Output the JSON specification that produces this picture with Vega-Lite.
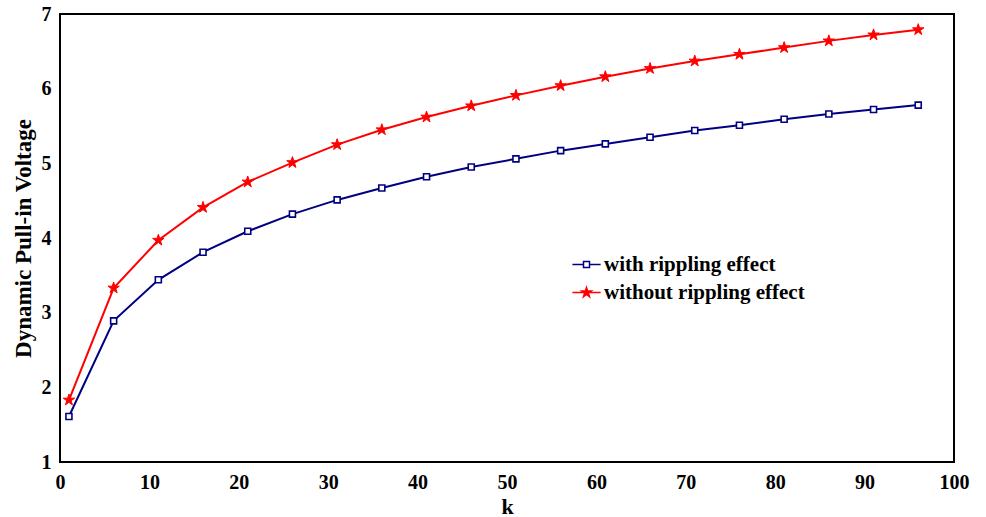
{
  "$schema": "https://vega.github.io/schema/vega-lite/v6.json",
  "width": 894,
  "height": 448,
  "autosize": "none",
  "padding": {"left": 60, "top": 14, "right": 32, "bottom": 55},
  "config": {
    "view": {"stroke": "#000000", "strokeWidth": 2},
    "font": "Liberation Serif",
    "axis": {
      "domain": false,
      "ticks": false,
      "grid": false,
      "labelFlush": false,
      "labelFont": "Liberation Serif",
      "labelFontWeight": "bold",
      "labelFontSize": 20,
      "labelColor": "#000000",
      "titleFont": "Liberation Serif",
      "titleFontWeight": "bold",
      "titleColor": "#000000"
    }
  },
  "datasets": {
    "kTicks": [{"k": 10}, {"k": 20}, {"k": 30}, {"k": 40}, {"k": 50}, {"k": 60}, {"k": 70}, {"k": 80}, {"k": 90}],
    "vTicks": [{"V": 2}, {"V": 3}, {"V": 4}, {"V": 5}, {"V": 6}]
  },
  "data": {
    "values": [
      {"k": 1, "V": 1.61, "series": "with rippling effect"},
      {"k": 6, "V": 2.89, "series": "with rippling effect"},
      {"k": 11, "V": 3.44, "series": "with rippling effect"},
      {"k": 16, "V": 3.81, "series": "with rippling effect"},
      {"k": 21, "V": 4.09, "series": "with rippling effect"},
      {"k": 26, "V": 4.32, "series": "with rippling effect"},
      {"k": 31, "V": 4.51, "series": "with rippling effect"},
      {"k": 36, "V": 4.67, "series": "with rippling effect"},
      {"k": 41, "V": 4.82, "series": "with rippling effect"},
      {"k": 46, "V": 4.95, "series": "with rippling effect"},
      {"k": 51, "V": 5.06, "series": "with rippling effect"},
      {"k": 56, "V": 5.17, "series": "with rippling effect"},
      {"k": 61, "V": 5.26, "series": "with rippling effect"},
      {"k": 66, "V": 5.35, "series": "with rippling effect"},
      {"k": 71, "V": 5.44, "series": "with rippling effect"},
      {"k": 76, "V": 5.51, "series": "with rippling effect"},
      {"k": 81, "V": 5.59, "series": "with rippling effect"},
      {"k": 86, "V": 5.66, "series": "with rippling effect"},
      {"k": 91, "V": 5.72, "series": "with rippling effect"},
      {"k": 96, "V": 5.78, "series": "with rippling effect"},
      {"k": 1, "V": 1.83, "series": "without rippling effect"},
      {"k": 6, "V": 3.33, "series": "without rippling effect"},
      {"k": 11, "V": 3.97, "series": "without rippling effect"},
      {"k": 16, "V": 4.41, "series": "without rippling effect"},
      {"k": 21, "V": 4.75, "series": "without rippling effect"},
      {"k": 26, "V": 5.01, "series": "without rippling effect"},
      {"k": 31, "V": 5.25, "series": "without rippling effect"},
      {"k": 36, "V": 5.45, "series": "without rippling effect"},
      {"k": 41, "V": 5.62, "series": "without rippling effect"},
      {"k": 46, "V": 5.77, "series": "without rippling effect"},
      {"k": 51, "V": 5.91, "series": "without rippling effect"},
      {"k": 56, "V": 6.04, "series": "without rippling effect"},
      {"k": 61, "V": 6.16, "series": "without rippling effect"},
      {"k": 66, "V": 6.27, "series": "without rippling effect"},
      {"k": 71, "V": 6.37, "series": "without rippling effect"},
      {"k": 76, "V": 6.46, "series": "without rippling effect"},
      {"k": 81, "V": 6.55, "series": "without rippling effect"},
      {"k": 86, "V": 6.64, "series": "without rippling effect"},
      {"k": 91, "V": 6.72, "series": "without rippling effect"},
      {"k": 96, "V": 6.79, "series": "without rippling effect"}
    ]
  },
  "encoding": {
    "x": {
      "field": "k", "type": "quantitative",
      "scale": {"domain": [0, 100], "nice": false, "zero": false},
      "axis": {"title": "k", "titleFontSize": 22, "titlePadding": 4, "labelPadding": 10, "values": [0,10,20,30,40,50,60,70,80,90,100]}
    },
    "y": {
      "field": "V", "type": "quantitative",
      "scale": {"domain": [1, 7], "nice": false, "zero": false},
      "axis": {"title": "Dynamic Pull-in Voltage", "titleFontSize": 23, "titlePadding": 6, "labelPadding": 9, "values": [1,2,3,4,5,6,7]}
    }
  },
  "layer": [
    {
      "data": {"name": "kTicks"},
      "mark": {"type": "tick", "orient": "vertical", "size": 16, "thickness": 2, "color": "#000000", "opacity": 1, "clip": true},
      "encoding": {"y": {"datum": 1, "type": "quantitative"}}
    },
    {
      "data": {"name": "kTicks"},
      "mark": {"type": "tick", "orient": "vertical", "size": 16, "thickness": 2, "color": "#000000", "opacity": 1, "clip": true},
      "encoding": {"y": {"datum": 7, "type": "quantitative"}}
    },
    {
      "data": {"name": "vTicks"},
      "mark": {"type": "tick", "orient": "horizontal", "size": 16, "thickness": 2, "color": "#000000", "opacity": 1, "clip": true},
      "encoding": {"x": {"datum": 0, "type": "quantitative"}}
    },
    {
      "data": {"name": "vTicks"},
      "mark": {"type": "tick", "orient": "horizontal", "size": 16, "thickness": 2, "color": "#000000", "opacity": 1, "clip": true},
      "encoding": {"x": {"datum": 100, "type": "quantitative"}}
    },
    {
      "mark": {"type": "line", "strokeWidth": 2},
      "encoding": {
        "color": {
          "field": "series", "type": "nominal",
          "scale": {"domain": ["with rippling effect", "without rippling effect"], "range": ["#000080", "#FF0000"]},
          "legend": {
            "title": null,
            "orient": "none",
            "legendX": 516,
            "legendY": 240,
            "padding": 0,
            "symbolSize": 144,
            "labelOffset": 7,
            "labelLimit": 400,
            "rowPadding": 6,
            "labelFont": "Liberation Serif",
            "labelFontWeight": "bold",
            "labelFontSize": 21,
            "labelColor": "#000000",
            "encode": {
              "symbols": {
                "update": {
                  "shape": {"signal": "datum.value === 'with rippling effect' ? 'M-2.35,0H-0.5M0.5,0H2.35M-0.5,-0.5H0.5V0.5H-0.5Z' : 'M-2.35,0H2.35M0,-0.85L0.19,-0.26L0.81,-0.26L0.31,0.1L0.5,0.69L0,0.32L-0.5,0.69L-0.31,0.1L-0.81,-0.26L-0.19,-0.26Z'"},
                  "size": {"value": 144},
                  "fill": {"signal": "datum.value === 'with rippling effect' ? '#ffffff' : '#FF0000'"},
                  "stroke": {"signal": "datum.value === 'with rippling effect' ? '#000080' : '#FF0000'"},
                  "strokeWidth": {"value": 1.5},
                  "fillOpacity": {"value": 1}
                }
              }
            }
          }
        }
      }
    },
    {
      "transform": [{"filter": "datum.series === 'with rippling effect'"}],
      "mark": {"type": "point", "shape": "square", "size": 36, "filled": false, "fill": "#ffffff", "fillOpacity": 1, "stroke": "#000080", "strokeWidth": 1.6, "opacity": 1}
    },
    {
      "transform": [{"filter": "datum.series === 'without rippling effect'"}],
      "mark": {"type": "point", "shape": "M0,-1L0.225,-0.309L0.951,-0.309L0.363,0.118L0.588,0.809L0,0.382L-0.588,0.809L-0.363,0.118L-0.951,-0.309L-0.225,-0.309Z", "size": 144, "filled": true, "fill": "#FF0000", "stroke": "#FF0000", "strokeWidth": 1, "opacity": 1}
    }
  ]
}
